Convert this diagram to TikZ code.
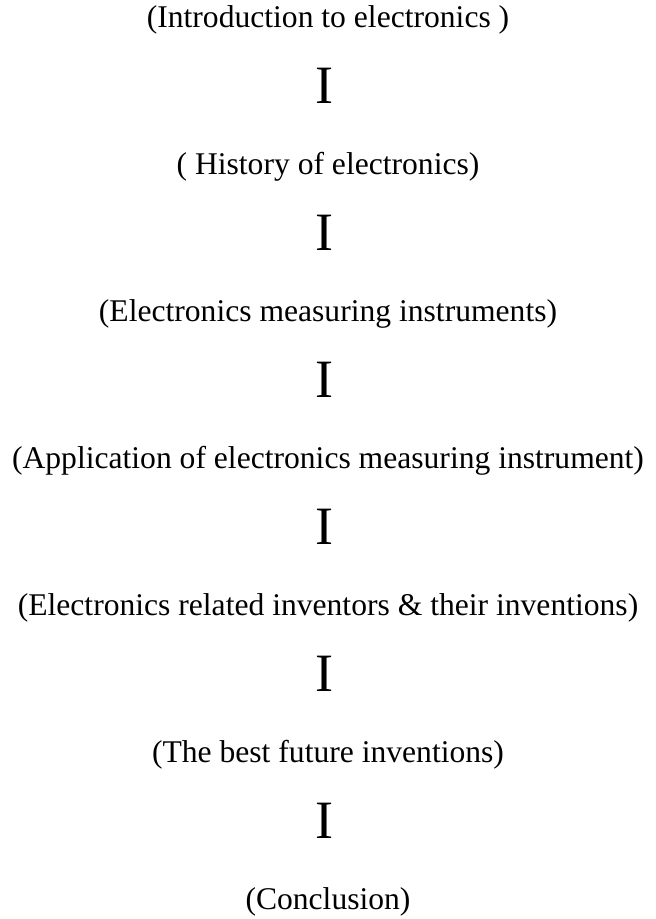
\documentclass[tikz,border=0pt]{standalone}
\usepackage{fontspec}
\setmainfont{Liberation Serif}
\usepackage{tikz}

\tikzset{
    topic/.style={inner sep=0pt, font=\fontsize{15.8}{18}\selectfont},
    sepmark/.style={inner sep=0pt, font=\fontsize{27}{30}\selectfont}
}

\begin{document}
\begin{tikzpicture}[x=0.5pt, y=-0.5pt]
    % Page frame
    \useasboundingbox (0, 0) rectangle (655, 919);

    % Topics, one under the other
    \node[topic] (t0) at (328, 20) {(Introduction to electronics )};
    \node[topic] (t1) at (328, 167) {( History of electronics)};
    \node[topic] (t2) at (328, 314) {(Electronics measuring instruments)};
    \node[topic] (t3) at (328, 461) {(Application of electronics measuring instrument)};
    \node[topic] (t4) at (328, 608) {(Electronics related inventors \& their inventions)};
    \node[topic] (t5) at (328, 755) {(The best future inventions)};
    \node[topic] (t6) at (328, 902) {(Conclusion)};

    % Separators between the topics
    \foreach \i in {1,...,6} {
        \node[sepmark] (s\i) at (324, {20 + 147*(\i-1) + 66}) {I};
    }
\end{tikzpicture}
\end{document}
